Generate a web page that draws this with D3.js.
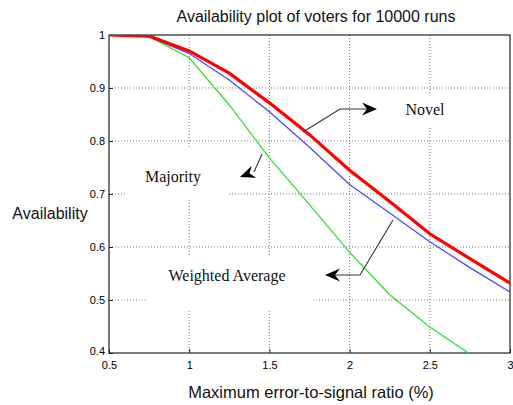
<!DOCTYPE html>
<html><head><meta charset="utf-8">
<script src="https://cdn.jsdelivr.net/npm/d3@7"></script>
<style>body{margin:0;background:#fff}svg{display:block}</style>
</head><body>
<script>
const xValues = [0.5, 0.75, 1, 1.25, 1.5, 1.75, 2, 2.25, 2.5, 2.75, 3];
const novel = [1.0, 0.998, 0.970, 0.928, 0.872, 0.812, 0.745, 0.686, 0.625, 0.578, 0.532];
const majority = [1.0, 0.997, 0.965, 0.915, 0.855, 0.788, 0.718, 0.664, 0.610, 0.561, 0.515];
const weighted = [1.0, 0.997, 0.957, 0.868, 0.768, 0.680, 0.590, 0.510, 0.449, 0.398, 0.355];
const xTicks = [0.5, 1, 1.5, 2, 2.5, 3];
const yTicks = [0.4, 0.5, 0.6, 0.7, 0.8, 0.9, 1];
const titleText = "Availability plot of voters for 10000 runs";
const xLabel = "Maximum error-to-signal ratio (%)";
const yLabel = "Availability";

const W = 513, H = 405;
const m = {left: 109, right: 3, top: 35, bottom: 52};
const svg = d3.select("body").append("svg").attr("width", W).attr("height", H);
const x = d3.scaleLinear().domain([0.5, 3]).range([m.left, W - m.right]);
const y = d3.scaleLinear().domain([0.4, 1]).range([H - m.bottom, m.top]);

svg.append("defs").append("clipPath").attr("id", "clip").append("rect")
  .attr("x", x(0.5)).attr("y", y(1)).attr("width", x(3) - x(0.5)).attr("height", y(0.4) - y(1));

// grid
const grid = svg.append("g");
grid.selectAll("line.v").data(xTicks.slice(1, -1)).join("line")
  .attr("x1", d => x(d)).attr("x2", d => x(d)).attr("y1", y(1)).attr("y2", y(0.4))
  .attr("stroke", "#777").attr("stroke-width", 1).attr("stroke-dasharray", "1,2");
grid.selectAll("line.h").data(yTicks.slice(1, -1)).join("line")
  .attr("x1", x(0.5)).attr("x2", x(3)).attr("y1", d => y(d)).attr("y2", d => y(d))
  .attr("stroke", "#777").attr("stroke-width", 1).attr("stroke-dasharray", "1,2");

// white text boxes covering grid
const boxes = [[380, 95, 95, 33], [127, 149, 101, 49], [148, 255, 164, 56]];
svg.append("g").selectAll("rect").data(boxes).join("rect")
  .attr("x", d => d[0]).attr("y", d => d[1]).attr("width", d => d[2]).attr("height", d => d[3])
  .attr("fill", "#fff");

// axes
const xAxis = d3.axisBottom(x).tickValues(xTicks).tickSize(-4).tickPadding(12).tickFormat(d3.format("~g"));
const yAxis = d3.axisLeft(y).tickValues(yTicks).tickSize(-4).tickPadding(4).tickFormat(d3.format("~g"));
const gx = svg.append("g").attr("transform", `translate(0,${y(0.4)})`).call(xAxis);
const gy = svg.append("g").attr("transform", `translate(${x(0.5)},0)`).call(yAxis);
[gx, gy].forEach(g => {
  g.select(".domain").remove();
  g.selectAll("line").attr("stroke", "#222");
  g.selectAll("text").attr("font-family", "Liberation Sans, Arial, sans-serif").attr("font-size", 11).attr("fill", "#000");
});
gx.selectAll("text").attr("dy", "0.35em");
gy.selectAll("text").filter(d => d === 0.4).attr("dy", "0.1em");
// frame
svg.append("rect").attr("x", x(0.5)).attr("y", y(1)).attr("width", x(3) - x(0.5)).attr("height", y(0.4) - y(1))
  .attr("fill", "none").attr("stroke", "#222").attr("stroke-width", 1.2);

// lines
const line = vals => d3.line().x((d, i) => x(xValues[i])).y(d => y(d))(vals);
const lg = svg.append("g").attr("clip-path", "url(#clip)");
lg.append("path").attr("d", line(weighted)).attr("fill", "none").attr("stroke", "#33dd33").attr("stroke-width", 1.3);
lg.append("path").attr("d", line(majority)).attr("fill", "none").attr("stroke", "#4a4aff").attr("stroke-width", 1.3);
lg.append("path").attr("d", line(novel)).attr("fill", "none").attr("stroke", "#ff0000").attr("stroke-width", 3.2);

// annotation arrows
function arrowHead(tip, from) {
  const dx = tip[0] - from[0], dy = tip[1] - from[1];
  const len = Math.hypot(dx, dy), ux = dx / len, uy = dy / len;
  const px = -uy, py = ux, L = 15, Wd = 6.5, N = 10;
  const bx = tip[0] - L * ux, by = tip[1] - L * uy;
  const p = [tip, [bx + Wd * px, by + Wd * py], [tip[0] - N * ux, tip[1] - N * uy], [bx - Wd * px, by - Wd * py]];
  svg.append("path").attr("d", "M" + p.map(q => q.join(",")).join("L") + "Z").attr("fill", "#000");
}
function polyline(pts) {
  svg.append("path").attr("d", "M" + pts.map(q => q.join(",")).join("L"))
    .attr("fill", "none").attr("stroke", "#333").attr("stroke-width", 1.1);
}
polyline([[303, 132], [340, 109], [368, 109]]);
arrowHead([377, 109], [340, 109]);
polyline([[262, 154], [254, 172]]);
arrowHead([240, 177], [256, 171]);
polyline([[393, 220], [360, 275], [332, 275]]);
arrowHead([325, 275], [360, 275]);

// labels
const serif = "Liberation Serif, Times New Roman, serif";
svg.append("text").attr("x", 425).attr("y", 109).attr("dy", "0.35em").attr("text-anchor", "middle")
  .attr("font-family", serif).attr("font-size", 16).attr("fill", "#111").text("Novel");
svg.append("text").attr("x", 173).attr("y", 176).attr("dy", "0.35em").attr("text-anchor", "middle")
  .attr("font-family", serif).attr("font-size", 16).attr("fill", "#111").text("Majority");
svg.append("text").attr("x", 227).attr("y", 275).attr("dy", "0.35em").attr("text-anchor", "middle")
  .attr("font-family", serif).attr("font-size", 16).attr("fill", "#111").text("Weighted Average");

const sans = "Liberation Sans, Arial, sans-serif";
svg.append("text").attr("x", 316).attr("y", 16).attr("dy", "0.35em").attr("text-anchor", "middle")
  .attr("font-family", sans).attr("font-size", 16).attr("fill", "#111").text(titleText);
svg.append("text").attr("x", 311).attr("y", 392).attr("dy", "0.35em").attr("text-anchor", "middle")
  .attr("font-family", sans).attr("font-size", 16.5).attr("fill", "#111").text(xLabel);
svg.append("text").attr("x", 50).attr("y", 213).attr("dy", "0.35em").attr("text-anchor", "middle")
  .attr("font-family", sans).attr("font-size", 16).attr("fill", "#111").text(yLabel);
</script>
</body></html>
